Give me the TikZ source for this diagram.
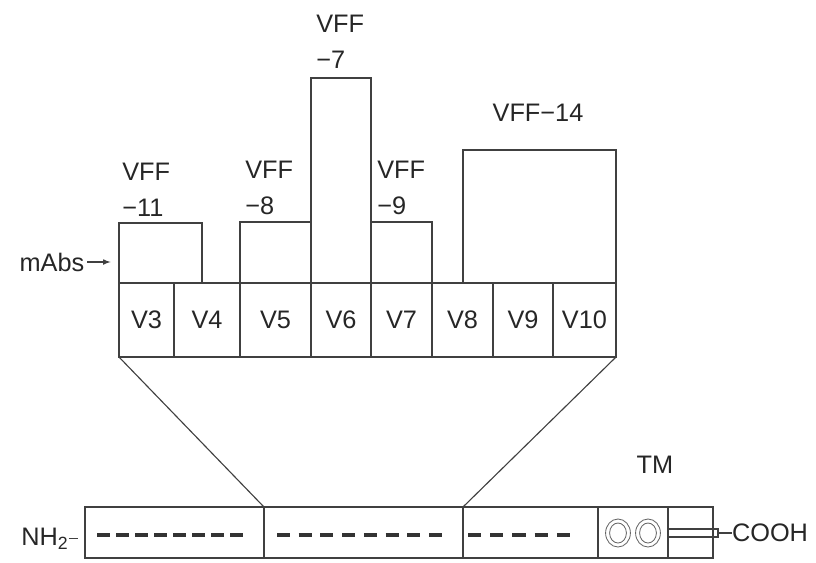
\documentclass[tikz,border=0pt]{standalone}
\usepackage{fontspec}
\setmainfont{Liberation Sans}
\usetikzlibrary{arrows.meta}

\tikzset{
  box/.style={draw=black!75, line width=0.8pt, inner sep=0pt, outer sep=0pt,
    text=black!85, font=\fontsize{18}{25}\selectfont},
  lbl/.style={text=black!85, font=\fontsize{18}{25.5}\selectfont, inner sep=0pt},
  link/.style={draw=black!75, line width=0.8pt},
  seqdash/.style={line width=2.8pt, black!80, dash pattern=on 0.325cm off #1},
  ring/.style={draw=black!60, line width=0.6pt},
}

\begin{document}
\begin{tikzpicture}[x=0.025cm, y=-0.025cm, >=latex]
  \useasboundingbox (0,0) rectangle (816,562);

  % variable domains
  \node[box, minimum width=1.375cm, minimum height=1.85cm] (V3) at (146.5,320) {V3};
  \node[box, minimum width=1.65cm, minimum height=1.85cm] (V4) at (207,320) {V4};
  \node[box, minimum width=1.775cm, minimum height=1.85cm] (V5) at (275.5,320) {V5};
  \node[box, minimum width=1.5cm, minimum height=1.85cm] (V6) at (341,320) {V6};
  \node[box, minimum width=1.525cm, minimum height=1.85cm] (V7) at (401.5,320) {V7};
  \node[box, minimum width=1.525cm, minimum height=1.85cm] (V8) at (462.5,320) {V8};
  \node[box, minimum width=1.5cm, minimum height=1.85cm] (V9) at (523,320) {V9};
  \node[box, minimum width=1.575cm, minimum height=1.85cm] (V10) at (584.5,320) {V10};

  % antibody bars
  \node[box, minimum width=2.075cm, minimum height=1.5cm] (vff11) at (160.5,253) {};
  \node[box, minimum width=1.775cm, minimum height=1.525cm] (vff8) at (275.5,252.5) {};
  \node[box, minimum width=1.5cm, minimum height=5.125cm] (vff7) at (341,180.5) {};
  \node[box, minimum width=1.525cm, minimum height=1.525cm] (vff9) at (401.5,252.5) {};
  \node[box, minimum width=3.825cm, minimum height=3.325cm] (vff14) at (539.5,216.5) {};

  \node[lbl, align=left, anchor=west] (l11) at (122,190) {VFF\\−11};
  \node[lbl, align=left, anchor=west] (l8) at (245,187.5) {VFF\\−8};
  \node[lbl, align=left, anchor=west] (l7) at (316,41.5) {VFF\\−7};
  \node[lbl, align=left, anchor=west] (l9) at (377,187.5) {VFF\\−9};
  \node[lbl] (l14) at (538,113) {VFF−14};

  \node[lbl] (mabs) at (52,262) {mAbs};
  \draw[link, ->, shorten <=2pt, shorten >=6pt] (mabs.east) -- (mabs.east -| vff11.west);

  % whole protein
  \node[box, minimum width=4.475cm, minimum height=1.275cm] (seg1) at (174.5,532.5) {};
  \node[box, minimum width=4.975cm, minimum height=1.275cm] (seg2) at (363.5,532.5) {};
  \node[box, minimum width=3.375cm, minimum height=1.275cm] (seg3) at (530.5,532.5) {};
  \node[box, minimum width=1.75cm, minimum height=1.275cm] (seg4) at (633,532.5) {};
  \node[box, minimum width=1.125cm, minimum height=1.275cm] (seg5) at (690.5,532.5) {};

  \draw[seqdash=0.15cm] (97,535) -- (243,535);
  \draw[seqdash=0.218cm] (277,535) -- (442,535);
  \draw[seqdash=0.231cm] (468,535) -- (570,535);

  \foreach \cx in {618,648} {
    \draw[ring] (\cx,533) ellipse [x radius=0.31cm, y radius=0.35cm];
    \draw[ring] (\cx,533) ellipse [x radius=0.21cm, y radius=0.25cm];
  }

  \node[box, minimum width=1.25cm, minimum height=0.2cm] (rod) at (693,533) {};
  \node[lbl] (cooh) at (770,533) {COOH};
  \draw[link] (rod.east) -- (cooh.west);

  \node[lbl, anchor=base west] (nh2) at (21,545) {NH\textsubscript{2}};
  \draw[link, shorten >=5pt] (nh2.east) -- (nh2.east -| seg1.west);

  \node[lbl] (tm) at (655,465) {TM};

  % zoom lines
  \draw[link] (V3.south west) -- (seg2.north west);
  \draw[link] (V10.south east) -- (seg3.north west);
\end{tikzpicture}
\end{document}
